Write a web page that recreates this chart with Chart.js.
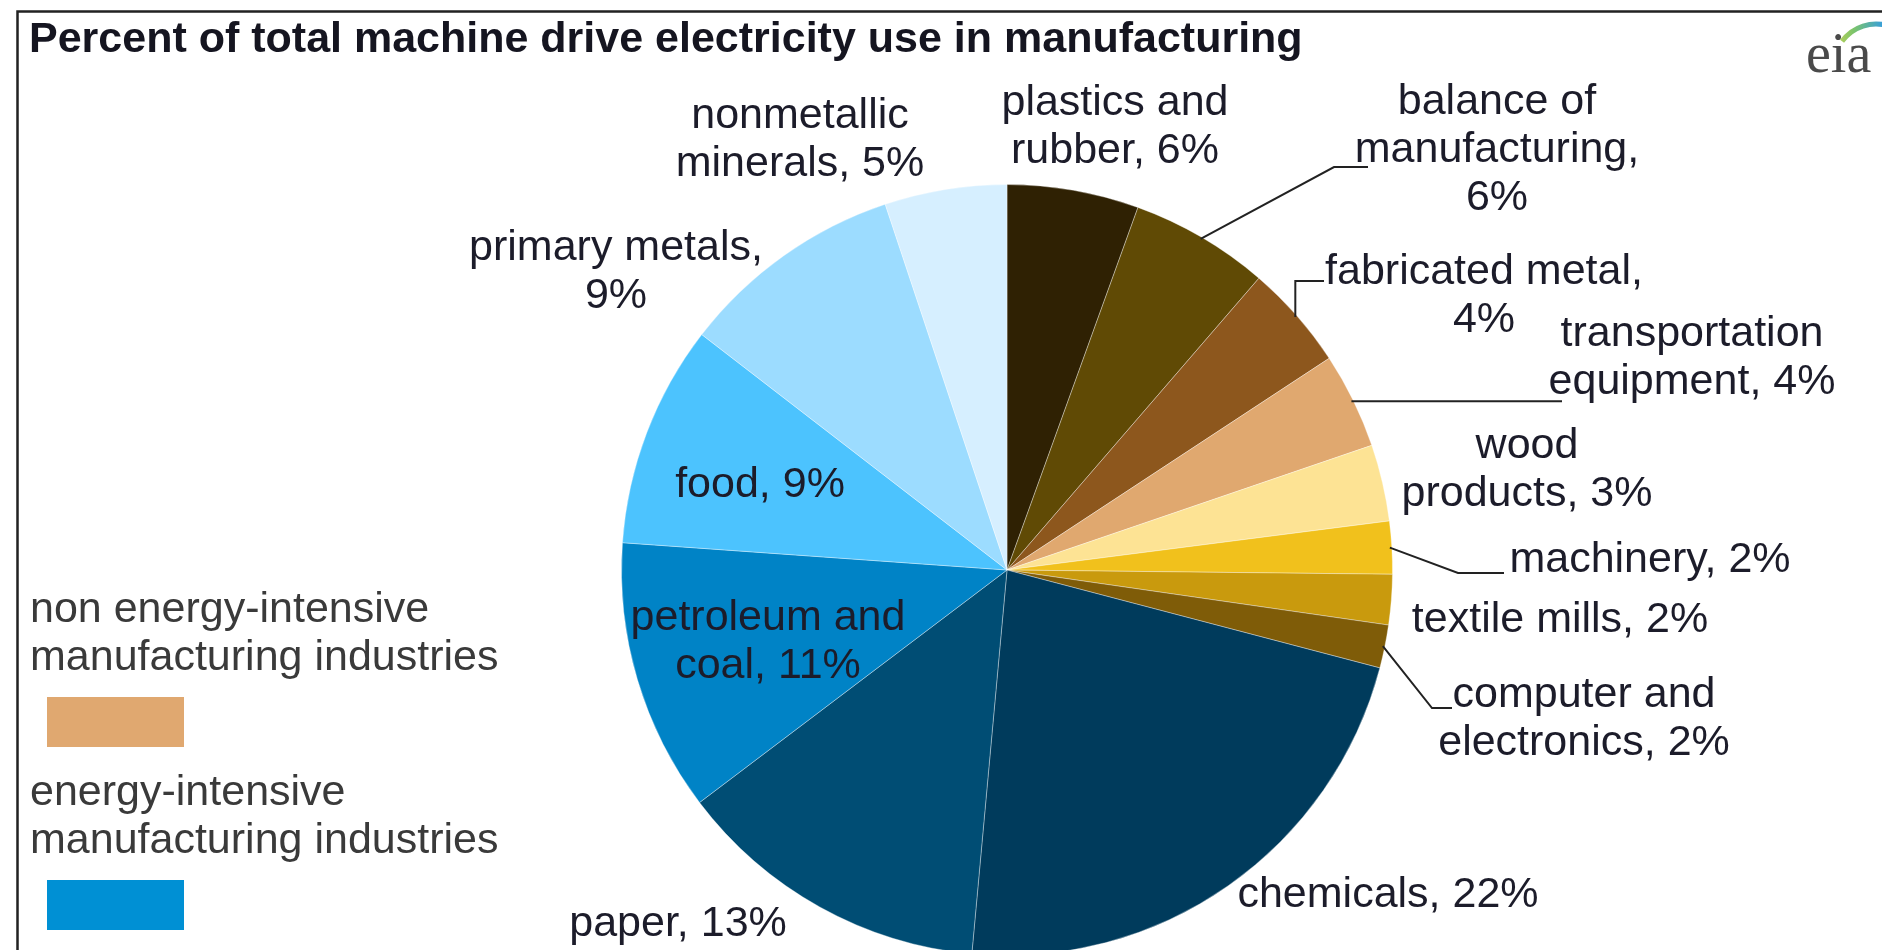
<!DOCTYPE html>
<html>
<head>
<meta charset="utf-8">
<script src="https://cdn.jsdelivr.net/npm/chart.js@4.4.0/dist/chart.umd.min.js"></script>
<style>
  html, body { margin: 0; padding: 0; background: #fff; overflow: hidden; }
  #wrap { position: relative; width: 1882px; height: 962px; }
</style>
</head>
<body>
<div id="wrap"><canvas id="myChart"></canvas></div>
<script>
const categories = [
  "plastics and rubber", "balance of manufacturing", "fabricated metal",
  "transportation equipment", "wood products", "machinery", "textile mills",
  "computer and electronics", "chemicals", "paper", "petroleum and coal",
  "food", "primary metals", "nonmetallic minerals"
];
const shares = [5.5, 5.8, 4.4, 4.0, 3.2, 2.2, 2.1, 1.8, 22.3, 13.2, 11.4, 9.3, 9.4, 5.1];
const sliceColors = [
  "#2f2103", "#604a05", "#8d571d", "#e0a86f", "#fde394", "#f1c11c", "#c99a0d",
  "#7f5c08", "#003b5c", "#004d74", "#0083c6", "#4cc3fe", "#9cdcff", "#d6efff"
];
const groupNames = ["non energy-intensive|manufacturing industries", "energy-intensive|manufacturing industries"];
const groupColors = ["#e0a870", "#0090d4"];

// where each slice label goes: words per line, centre x, first line y, leader bends
const labelLayout = [
  { split: [2, 2], x: 1115, y: 103 },
  { split: [2, 1, 1], x: 1497, y: 102, leader: [[1334, 167], [1368, 167]] },
  { split: [2, 1], x: 1484, y: 272, leader: [[null, 281], [1324, 281]] },
  { split: [1, 2], x: 1692, y: 334, leader: [[1562, null]] },
  { split: [1, 2], x: 1527, y: 446 },
  { split: [2], x: 1650, y: 560, leader: [[1458, 573], [1504, 573]] },
  { split: [3], x: 1560, y: 620 },
  { split: [2, 2], x: 1584, y: 695, leader: [[1432, 708], [1452, 708]] },
  { split: [2], x: 1388, y: 895 },
  { split: [2], x: 678, y: 924 },
  { split: [2, 2], x: 768, y: 618 },
  { split: [2], x: 760, y: 485 },
  { split: [2, 1], x: 616, y: 248 },
  { split: [1, 2], x: 800, y: 116 }
];

const W = 1882;
const FONT = "'Liberation Sans', Arial, sans-serif";

const decorPlugin = {
  id: "decor",
  afterDraw(chart) {
    const ctx = chart.ctx;
    const meta = chart.getDatasetMeta(0);
    ctx.save();

    // frame
    ctx.strokeStyle = "#222";
    ctx.lineWidth = 2.5;
    ctx.beginPath();
    ctx.moveTo(W, 11.5);
    ctx.lineTo(17.5, 11.5);
    ctx.lineTo(17.5, 962);
    ctx.stroke();

    // title
    ctx.fillStyle = "#151520";
    ctx.font = "bold 43px " + FONT;
    ctx.textBaseline = "alphabetic";
    ctx.textAlign = "left";
    ctx.fillText("Percent of total machine drive electricity use in manufacturing", 29, 52);

    // eia mark
    ctx.fillStyle = "#4a4a4a";
    ctx.font = "56px 'Liberation Serif', 'DejaVu Serif', serif";
    ctx.fillText("eia", 1806, 72);
    const grad = ctx.createLinearGradient(1825, 0, 1882, 0);
    grad.addColorStop(0, "#e8d84a");
    grad.addColorStop(0.5, "#7cc46a");
    grad.addColorStop(1, "#3aa0d8");
    ctx.strokeStyle = grad;
    ctx.lineWidth = 5;
    ctx.beginPath();
    ctx.arc(1876, 66, 42, Math.PI * 1.2, Math.PI * 1.6);
    ctx.stroke();

    // slice labels
    ctx.font = "43px " + FONT;
    ctx.textAlign = "center";
    ctx.textBaseline = "middle";
    const lh = 48;
    meta.data.forEach((arc, i) => {
      const lay = labelLayout[i];
      const words = (categories[i] + ", " + Math.round(shares[i]) + "%").split(" ");
      let k = 0;
      lay.split.forEach((n, li) => {
        const line = words.slice(k, k + n).join(" ");
        k += n;
        ctx.fillStyle = "#1c1c2a";
        ctx.fillText(line, lay.x, lay.y + li * lh);
      });
      if (lay.leader) {
        const p = arc.getProps(["x", "y", "startAngle", "endAngle", "outerRadius"], true);
        const mid = (p.startAngle + p.endAngle) / 2;
        const sx = p.x + Math.cos(mid) * (p.outerRadius - 2);
        const sy = p.y + Math.sin(mid) * (p.outerRadius - 2);
        ctx.strokeStyle = "#222";
        ctx.lineWidth = 2;
        ctx.beginPath();
        ctx.moveTo(sx, sy);
        lay.leader.forEach(pt => ctx.lineTo(pt[0] === null ? sx : pt[0], pt[1] === null ? sy : pt[1]));
        ctx.stroke();
      }
    });

    // group legend
    ctx.textAlign = "left";
    ctx.font = "43px " + FONT;
    const legendTop = [610, 793];
    groupNames.forEach((name, g) => {
      const lines = name.split("|");
      ctx.fillStyle = "#3a3a3a";
      lines.forEach((t, li) => ctx.fillText(t, 30, legendTop[g] + li * lh));
      ctx.fillStyle = groupColors[g];
      ctx.fillRect(47, legendTop[g] + 87, 137, 50);
    });

    ctx.restore();
  }
};

new Chart("myChart", {
  type: "pie",
  data: {
    labels: categories,
    datasets: [
      {
        data: shares,
        backgroundColor: sliceColors,
        borderColor: "rgba(255,255,255,0.35)",
        borderWidth: 1,
        hoverOffset: 0,
      },
    ],
  },
  options: {
    responsive: true,
    maintainAspectRatio: false,
    animation: false,
    layout: { padding: { left: 621, right: 489, top: 184, bottom: 6 } },
    plugins: {
      legend: { display: false },
      tooltip: { enabled: false },
      title: { display: false },
    },
  },
  plugins: [decorPlugin],
});
</script>
</body>
</html>
